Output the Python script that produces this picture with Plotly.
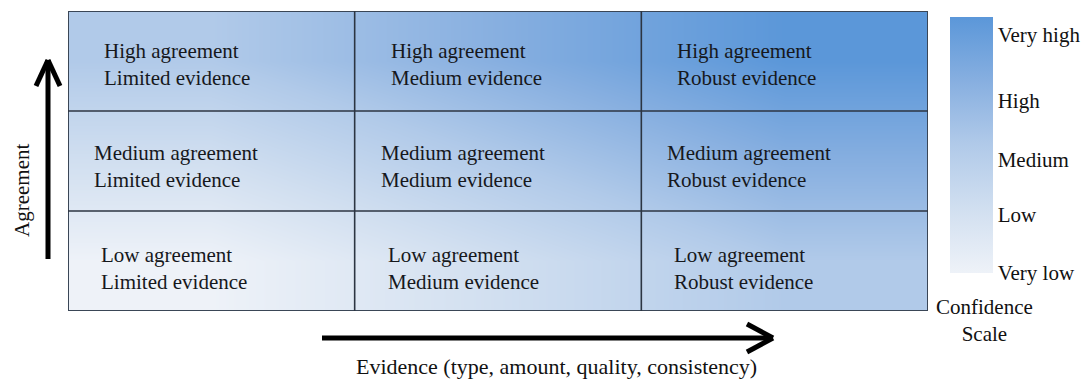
import plotly.graph_objects as go

# ---- data ----
evidence_levels = ["Limited", "Medium", "Robust"]          # x (columns, left -> right)
agreement_levels = ["Low", "Medium", "High"]               # y (rows, bottom -> top)
# confidence score per cell = agreement index + evidence index (0 = very low ... 4 = very high)
confidence = [
    [0, 1, 2],   # Low agreement
    [1, 2, 3],   # Medium agreement
    [2, 3, 4],   # High agreement
]
scale_labels = ["Very low", "Low", "Medium", "High", "Very high"]
scale_tick_pos = [0.0, 0.91, 1.77, 2.70, 3.72]

# ---- styling / layout helpers ----
OFF = 8                                  # page body margin in the browser
W, H = 1089 - OFF, 383 - OFF
L, R, T, B = 68, 928, 11, 311            # plot-area box in screenshot pixels
FONT = "Liberation Serif, Times New Roman, serif"
row_xshift = [31, 24, 34]
row_yshift = [-7, -5, -3]

def px(x):
    return (x - L) / (R - L)

def py(y):
    return (B - y) / (B - T)

colorscale = [
    [0.0, "#eef2f8"],
    [0.25, "#d1dff0"],
    [0.5, "#b1cae9"],
    [0.75, "#87afe0"],
    [1.0, "#5b97d9"],
]

fig = go.Figure(
    go.Heatmap(
        x=list(range(len(evidence_levels))),
        y=list(range(len(agreement_levels))),
        z=confidence,
        zmin=0, zmax=4,
        zsmooth="best",
        colorscale=colorscale,
        hoverinfo="skip",
        colorbar=dict(
            tickvals=scale_tick_pos,
            ticktext=scale_labels,
            ticks="",
            tickfont=dict(family=FONT, size=21, color="#111111"),
            outlinewidth=0,
            thickness=43, thicknessmode="pixels",
            len=256, lenmode="pixels",
            x=px(950), xanchor="left", xpad=0,
            y=py(145), yanchor="middle", ypad=0,
        ),
    )
)

shapes = []
# outer border
shapes.append(dict(type="rect", xref="x", yref="y", x0=-0.5, x1=2.5, y0=-0.5, y1=2.5,
                   line=dict(color="#3a4656", width=2), fillcolor="rgba(0,0,0,0)"))
# inner grid lines
for k in (0.5, 1.5):
    shapes.append(dict(type="line", xref="x", yref="y", x0=k, x1=k, y0=-0.5, y1=2.5,
                       line=dict(color="#2c3542", width=1.6)))
    shapes.append(dict(type="line", xref="x", yref="y", x0=-0.5, x1=2.5, y0=k, y1=k,
                       line=dict(color="#2c3542", width=1.6)))

# arrows (shaft + open chevron head), paper coords
def seg(x0, y0, x1, y1):
    return dict(type="line", xref="paper", yref="paper",
                x0=px(x0), y0=py(y0), x1=px(x1), y1=py(y1),
                line=dict(color="black", width=5))

# vertical (agreement) arrow
shapes.append(seg(48, 259, 48, 60))
shapes.append(seg(36, 86, 48, 60))
shapes.append(seg(60, 86, 48, 60))
# horizontal (evidence) arrow
shapes.append(seg(322, 338, 773, 338))
shapes.append(seg(747, 324, 773, 338))
shapes.append(seg(747, 352, 773, 338))

annotations = []
for r, ag in enumerate(agreement_levels):
    for c, ev in enumerate(evidence_levels):
        annotations.append(dict(
            xref="x", yref="y", x=c - 0.5, y=r,
            xanchor="left", yanchor="middle",
            xshift=row_xshift[r], yshift=row_yshift[r],
            text=f"{ag} agreement<br>{ev} evidence",
            align="left", showarrow=False,
            font=dict(family=FONT, size=21, color="#16181c"),
        ))

annotations.append(dict(xref="paper", yref="paper", x=px(22), y=py(191),
                        xanchor="center", yanchor="middle",
                        text="Agreement", textangle=-90, showarrow=False,
                        font=dict(family=FONT, size=21, color="#111111")))
annotations.append(dict(xref="paper", yref="paper", x=px(556), y=py(366),
                        xanchor="center", yanchor="middle",
                        text="Evidence (type, amount, quality, consistency)", showarrow=False,
                        font=dict(family=FONT, size=22, color="#111111")))
annotations.append(dict(xref="paper", yref="paper", x=px(984), y=py(320),
                        xanchor="center", yanchor="middle",
                        text="Confidence<br>Scale", showarrow=False, align="center",
                        font=dict(family=FONT, size=21, color="#111111")))

fig.update_layout(
    width=W, height=H,
    margin=dict(l=L - OFF, r=W - (R - OFF), t=T - OFF, b=H - (B - OFF)),
    paper_bgcolor="white", plot_bgcolor="white",
    xaxis=dict(visible=False, range=[-0.5, 2.5], fixedrange=True),
    yaxis=dict(visible=False, range=[-0.5, 2.5], fixedrange=True),
    shapes=shapes,
    annotations=annotations,
    showlegend=False,
)

fig.write_html("out.html")
